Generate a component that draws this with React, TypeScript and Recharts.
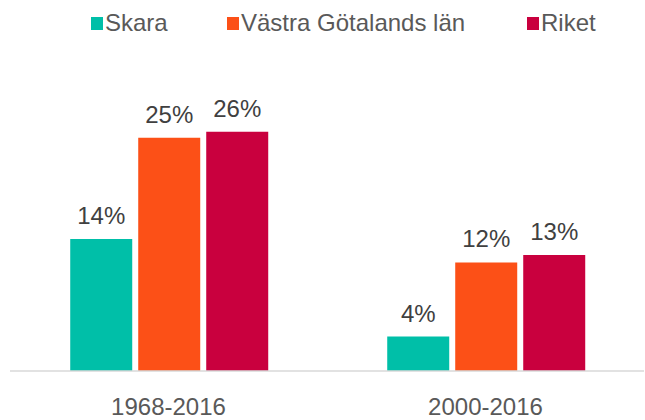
import { BarChart, Bar, XAxis, YAxis, LabelList } from 'recharts';

const categories = ['1968-2016', '2000-2016'];
const skara = [14.35, 3.75];
const vastraGotaland = [25.35, 11.8];
const riket = [26.0, 12.6];

const seriesNames = ['Skara', 'Västra Götalands län', 'Riket'];
const seriesKeys = ['skara', 'vgr', 'riket'];
const seriesColors = ['#00BFA8', '#FC5017', '#C9003E'];
const legendLeft = [91, 227, 527];

const data = categories.map((cat, i) => ({
  cat,
  skara: skara[i],
  vgr: vastraGotaland[i],
  riket: riket[i],
}));

const FONT = '"Liberation Sans", Arial, sans-serif';

function pct(v: unknown): string {
  return `${Math.round(Number(v))}%`;
}

export default function App() {
  return (
    <div style={{ position: 'absolute', left: 0, top: 0, width: 645, height: 420, background: '#fff', fontFamily: FONT }}>
      {seriesNames.map((name, i) => (
        <div
          key={name}
          style={{
            position: 'absolute',
            top: 9,
            left: legendLeft[i],
            display: 'flex',
            alignItems: 'center',
            fontSize: 24,
            color: '#595959',
            whiteSpace: 'nowrap',
          }}
        >
          <span style={{ display: 'inline-block', width: 12, height: 13, background: seriesColors[i], marginRight: 2 }} />
          <span>{name}</span>
        </div>
      ))}
      <BarChart
        width={645}
        height={420}
        data={data}
        margin={{ top: 95, right: 1, left: 10, bottom: 9 }}
        barCategoryGap="19%"
        barGap={6}
      >
        <XAxis
          dataKey="cat"
          height={40}
          tickLine={false}
          tickSize={0}
          tickMargin={27}
          axisLine={{ stroke: '#D9D9D9', strokeWidth: 1.5 }}
          tick={{ fill: '#595959', fontSize: 24, fontFamily: FONT }}
        />
        <YAxis hide domain={[0, 30]} />
        {seriesKeys.map((key, i) => (
          <Bar key={key} dataKey={key} name={seriesNames[i]} fill={seriesColors[i]} isAnimationActive={false}>
            <LabelList
              dataKey={key}
              position="top"
              offset={15}
              formatter={pct}
              style={{ fill: '#404040', fontSize: 24, fontFamily: FONT }}
            />
          </Bar>
        ))}
      </BarChart>
    </div>
  );
}
